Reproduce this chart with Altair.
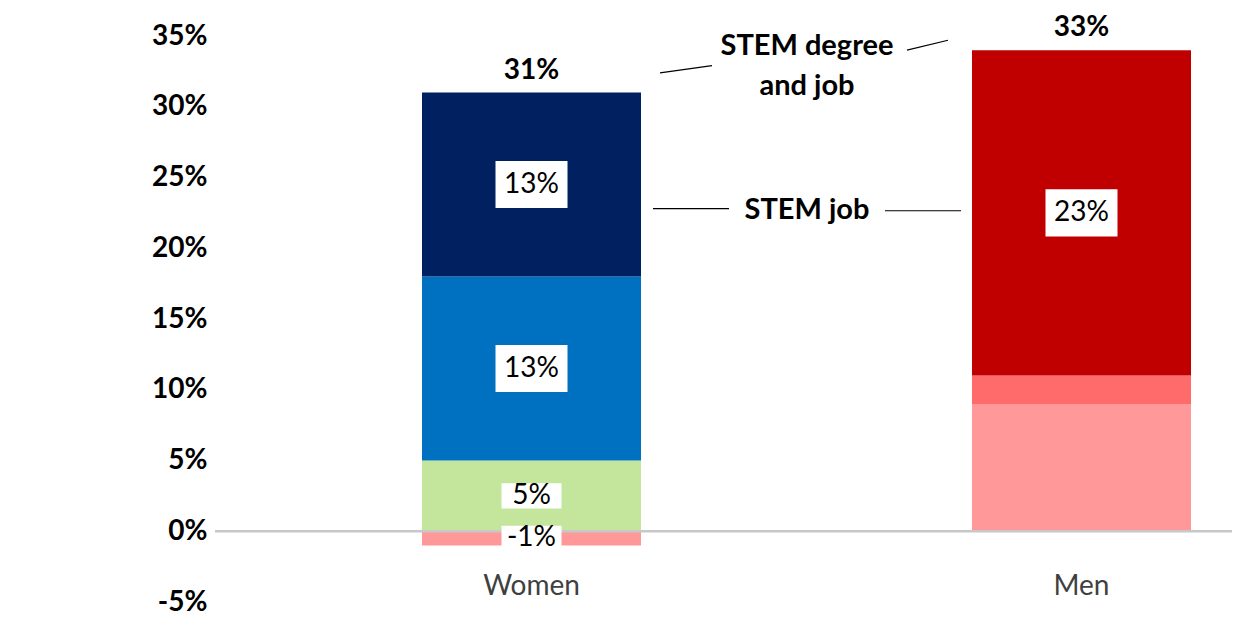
import altair as alt
import pandas as pd

# ---- data (values in percent) ----
groups = ["Women", "Men"]

seg_group = ["Women", "Women", "Women", "Women", "Men", "Men", "Men"]
seg_key = ["W-neg", "W-base", "W-job", "W-both", "M-base", "M-job", "M-both"]
seg_start = [-1, 0, 5, 18, 0, 9, 11]
seg_end = [0, 5, 18, 31, 9, 11, 34]

lab_group = ["Women", "Women", "Women", "Women", "Men"]
lab_value = [24.5, 11.5, 2.5, -0.5, 22.5]
lab_text = ["13%", "13%", "5%", "-1%", "23%"]

tot_group = ["Women", "Men"]
tot_value = [31, 34]
tot_text = ["31%", "33%"]

ann_text = ["STEM degree", "and job", "STEM job"]
ann_value = [34.3, 31.5, 22.7]

y_ticks = [-5, 0, 5, 10, 15, 20, 25, 30, 35]

# ---- tables ----
seg_df = pd.DataFrame({"g": seg_group, "k": seg_key, "y0": seg_start, "y1": seg_end})
lab_df = pd.DataFrame({"g": lab_group, "v": lab_value, "t": lab_text})
tot_df = pd.DataFrame({"g": tot_group, "v": tot_value, "t": tot_text})
ann_df = pd.DataFrame({"t": ann_text, "v": ann_value})
zero_df = pd.DataFrame({"v": [0]})

FONT = "Lato"
colors = ["#ff9999", "#c4e59c", "#0070c0", "#002060", "#ff9999", "#ff6b6b", "#c00000"]

yscale = alt.Scale(domain=[-5, 35], nice=False, zero=False)
yaxis = alt.Axis(
    title=None, values=y_ticks, labelExpr="datum.value + '%'",
    domain=False, ticks=False, grid=False,
    labelFont=FONT, labelFontSize=28, labelFontWeight="bold",
    labelColor="#000000", labelPadding=8,
)
xenc = alt.X(
    "g:N",
    sort=groups,
    title=None,
    scale=alt.Scale(paddingInner=0.6018, paddingOuter=0.22545, align=0.8347),
    axis=alt.Axis(
        title=None, domain=False, ticks=False, labelAngle=0,
        labelFont=FONT, labelFontSize=28, labelColor="#404040",
        labelPadding=0, offset=-30,
    ),
)

def yq(field):
    return alt.Y(field, scale=yscale, title=None, axis=yaxis)

bars = alt.Chart(seg_df).mark_bar(strokeWidth=0).encode(
    x=xenc,
    y=yq("y0:Q"),
    y2="y1:Q",
    color=alt.Color("k:N", scale=alt.Scale(domain=seg_key, range=colors), legend=None),
)

zero = alt.Chart(zero_df).mark_rule(color="#c8c8c8", strokeWidth=2.5).encode(
    y=yq("v:Q")
)

big_boxes = alt.Chart(lab_df).transform_filter("datum.v > 5").mark_point(
    shape="M-1,-0.653H1V0.653H-1Z", filled=True, color="white", opacity=1, size=5184, strokeWidth=0
).encode(x=xenc, y=yq("v:Q"))

small_boxes = alt.Chart(lab_df).transform_filter("datum.v <= 5").mark_point(
    shape="M-1,-0.42H1V0.42H-1Z", filled=True, color="white", opacity=1, size=3600, strokeWidth=0
).encode(x=xenc, y=yq("v:Q"))

labels = alt.Chart(lab_df).mark_text(
    font=FONT, fontSize=28, color="#000000", baseline="middle", align="center"
).encode(x=xenc, y=yq("v:Q"), text="t:N")

totals = alt.Chart(tot_df).mark_text(
    font=FONT, fontSize=28, fontWeight="bold", color="#000000", baseline="middle", align="center", dy=-22
).encode(x=xenc, y=yq("v:Q"), text="t:N")

ann = alt.Chart(ann_df).mark_text(
    font=FONT, fontSize=29, fontWeight="bold", color="#000000", baseline="middle", align="center"
).encode(x=alt.value(592), y=yq("v:Q"), text="t:N")

def connector(x1, x2, v1, v2):
    d = pd.DataFrame({"a": [v1], "b": [v2]})
    return alt.Chart(d).mark_rule(color="#000000", strokeWidth=1.2).encode(
        x=alt.value(x1), x2=alt.value(x2),
        y=yq("a:Q"), y2="b:Q",
    )

lines = [
    connector(445, 497, 32.4, 32.9),
    connector(692, 733, 34.0, 34.7),
    connector(438, 514, 22.8, 22.8),
    connector(670, 746, 22.65, 22.65),
]

chart = alt.layer(bars, zero, big_boxes, small_boxes, labels, totals, ann, *lines).properties(
    width=1017,
    height=566,
    padding={"left": 207, "top": 28, "right": 0, "bottom": 18},
    autosize=alt.AutoSizeParams(type="none"),
).configure(background="white").configure_view(stroke=None, strokeWidth=0)

chart.save("out.html", embed_options={"renderer": "svg", "actions": False})
